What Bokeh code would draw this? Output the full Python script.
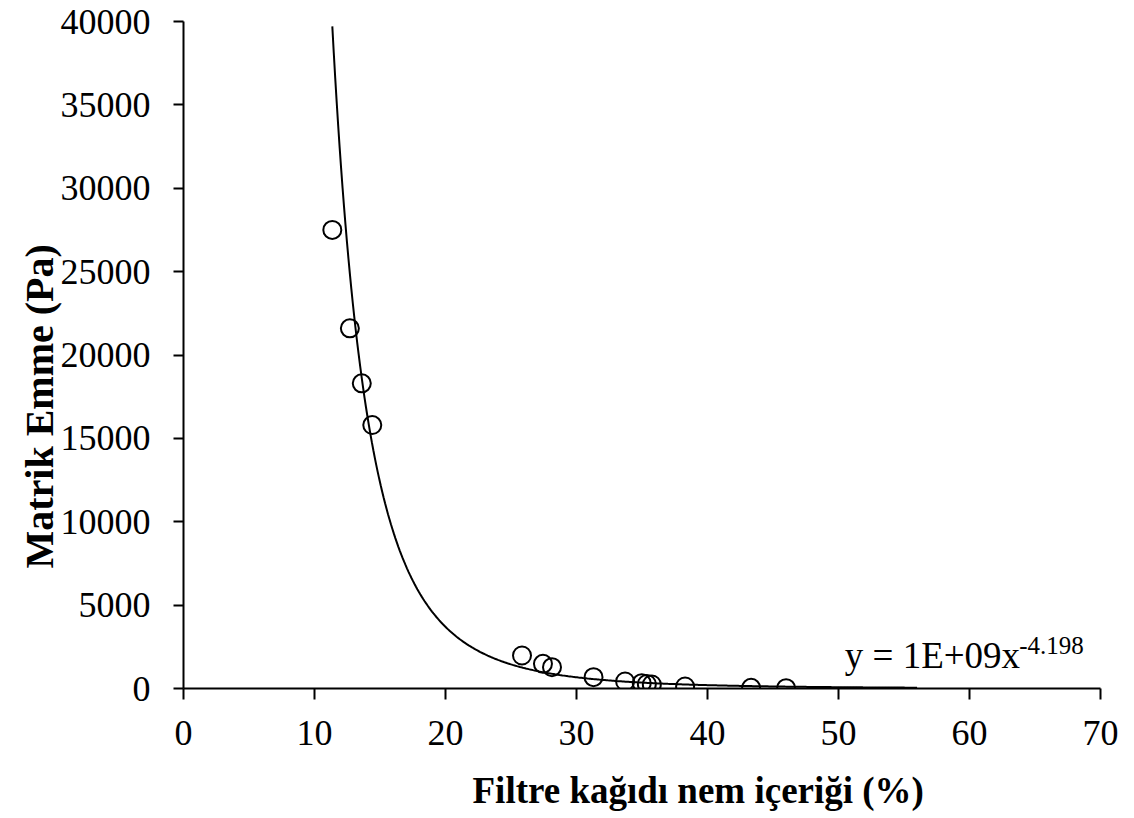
import numpy as np
from bokeh.plotting import figure
from bokeh.models import Range1d, FixedTicker, Label, ColumnDataSource, Title
from bokeh.embed import file_html
from bokeh.resources import INLINE

# Data
moisture = [11.36, 12.70, 13.61, 14.41, 25.84, 27.44, 28.13, 31.30, 33.71,
            34.98, 35.37, 35.75, 38.29, 43.33, 46.0]
suction = [27500, 21600, 18300, 15800, 1980, 1480, 1280, 680, 420,
           320, 270, 240, 120, 40, 20]

# Power trendline y = a * x^b (displayed as y = 1E+09x^-4.198)
TREND_A = 1.07e9
TREND_B = -4.198
TREND_X_START = 11.36
TREND_X_END = 56.0

x_ticks = [0, 10, 20, 30, 40, 50, 60, 70]
y_ticks = [0, 5000, 10000, 15000, 20000, 25000, 30000, 35000, 40000]

FONT = "Liberation Serif"

p = figure(output_backend="svg", toolbar_location=None,
           frame_width=917, frame_height=667,
           min_border_left=183, min_border_right=34,
           min_border_top=21, min_border_bottom=130,
           x_range=Range1d(0, 70), y_range=Range1d(0, 40000),
           background_fill_color="white", border_fill_color="white")
p.outline_line_color = None
p.grid.visible = False

for ax in (p.xaxis[0], p.yaxis[0]):
    ax.axis_line_color = "black"
    ax.axis_line_width = 2
    ax.major_tick_line_color = "black"
    ax.major_tick_line_width = 2
    ax.major_tick_in = 0
    ax.minor_tick_line_color = None
    ax.major_label_text_font = FONT
    ax.major_label_text_font_size = "36px"
    ax.major_label_text_color = "black"

p.xaxis[0].ticker = FixedTicker(ticks=x_ticks)
p.yaxis[0].ticker = FixedTicker(ticks=y_ticks)
p.xaxis[0].major_tick_out = 11
p.yaxis[0].major_tick_out = 10
p.xaxis[0].major_label_standoff = 21
p.yaxis[0].major_label_standoff = 23

# Trendline
tx = np.linspace(TREND_X_START, TREND_X_END, 400)
ty = TREND_A * tx ** TREND_B
p.line(tx, ty, line_color="black", line_width=2)

# Data points
src = ColumnDataSource(dict(x=moisture, y=suction))
p.scatter("x", "y", source=src, marker="circle", size=18,
          fill_color=None, line_color="black", line_width=2)

# Axis titles
p.add_layout(Title(text="Filtre kağıdı nem içeriği (%)", align="left", offset=289,
                   text_font=FONT, text_font_size="37px", text_font_style="bold",
                   text_color="black", standoff=40), "below")
p.add_layout(Title(text="Matrik Emme (Pa)", align="left", offset=120,
                   text_font=FONT, text_font_size="40px", text_font_style="bold",
                   text_color="black", standoff=-8), "left")

# Trendline equation
p.add_layout(Label(x=50.48, y=1980, text="y = 1E+09x",
                   text_font=FONT, text_font_size="37px",
                   text_align="left", text_baseline="alphabetic", text_color="black"))
p.add_layout(Label(x=63.8, y=2580, text="-4.198",
                   text_font=FONT, text_font_size="25px",
                   text_align="left", text_baseline="alphabetic", text_color="black"))

open("out.html", "w").write(file_html(p, INLINE))
